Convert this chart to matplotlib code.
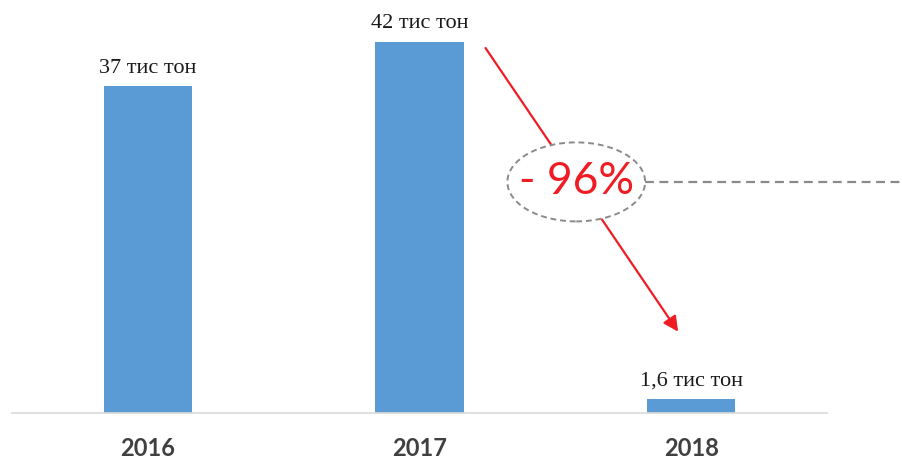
import matplotlib.pyplot as plt
from matplotlib.patches import Ellipse

years = ['2016', '2017', '2018']
values = [37, 42, 1.6]
value_labels = ['37 тис тон', '42 тис тон', '1,6 тис тон']
drop_label = '- 96%'

bar_color = '#5b9bd5'
red = '#f01c24'

fig = plt.figure(figsize=(9.02, 4.66), dpi=100)
ax = fig.add_axes([12 / 902, 53 / 466, 815 / 902, 403 / 466])

x = list(range(len(years)))
bars = ax.bar(x, values, width=0.324, color=bar_color, zorder=2)

ax.set_xlim(-0.5, 2.5)
ax.set_ylim(0, 45.6)
ax.set_xticks(x)
ax.set_xticklabels(years, fontsize=17, fontweight='bold', color='#404040',
                   family=['Lato', 'DejaVu Sans'])
ax.tick_params(axis='x', length=0, pad=17)
ax.set_yticks([])
for s in ['top', 'right', 'left']:
    ax.spines[s].set_visible(False)
ax.spines['bottom'].set_color('#d9d9d9')
ax.spines['bottom'].set_linewidth(1.2)

# value labels above bars
for xi, v, lab in zip(x, values, value_labels):
    ax.annotate(lab, (xi, v), xytext=(0, 6), textcoords='offset points',
                ha='center', va='bottom', fontsize=16, color='#1a1a1a',
                family=['Liberation Serif', 'DejaVu Serif'])

# red arrow from 2017 down to 2018
ax.annotate('', xy=(x[2] - 0.048, values[2] + 7.6),
            xytext=(x[1] + 0.243, values[1] - 0.7),
            arrowprops=dict(arrowstyle='-|>,head_length=0.9,head_width=0.45',
                            color=red, lw=1.6, shrinkA=0, shrinkB=0),
            zorder=3, annotation_clip=False)

# dashed ellipse with the drop percentage
ex, ey, ew, eh = 1.577, 26.15, 0.507, 8.94
ell = Ellipse((ex, ey), ew, eh, facecolor='white', edgecolor='#8a8a8a',
              lw=1.4, linestyle=(0, (3, 2)), zorder=4)
ax.add_patch(ell)
ax.text(ex, ey, drop_label, ha='center', va='center', fontsize=32, color=red,
        family=['Lato', 'DejaVu Sans'], zorder=5)

# dashed guide line to the right edge
ax.plot([ex + ew / 2, 2.78], [ey, ey], color='#8a8a8a', lw=1.6,
        dashes=(4, 2.5), clip_on=False, zorder=3)

fig.savefig('out.png', dpi=100)
